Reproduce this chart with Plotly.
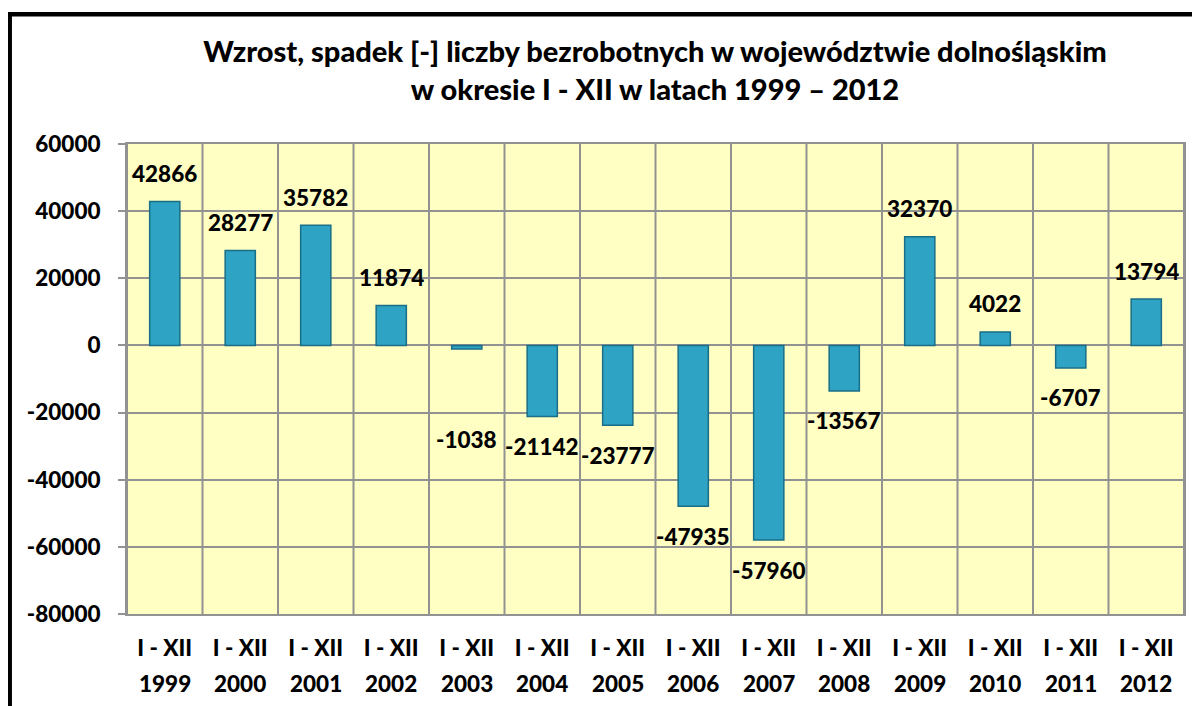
import plotly.graph_objects as go

years = ["1999", "2000", "2001", "2002", "2003", "2004", "2005",
         "2006", "2007", "2008", "2009", "2010", "2011", "2012"]
period = "I - XII"
values = [42866, 28277, 35782, 11874, -1038, -21142, -23777,
          -47935, -57960, -13567, 32370, 4022, -6707, 13794]
y_ticks = [60000, 40000, 20000, 0, -20000, -40000, -60000, -80000]
title_lines = ["Wzrost, spadek [-] liczby bezrobotnych w województwie dolnośląskim",
               "w okresie I - XII w latach 1999 – 2012"]

FONT = "Lato"
WEIGHT = 900
GRID = "#929292"
# browser body margin of 8px shifts the figure; compensate in size/margins
W, H = 1192, 698
ML, MR, MT, MB = 119, 16, 136, 92
PW, PH = W - ML - MR, H - MT - MB

xs = list(range(len(years)))

fig = go.Figure()
fig.add_trace(go.Bar(
    x=xs, y=values,
    width=0.4,
    marker=dict(color="#2EA3C4", line=dict(color="#1A6E86", width=1.5)),
    hovertext=[f"{period} {y}" for y in years], hoverinfo="text+y",
))

# value labels outside the bar ends
label_shift = {i: (28 if v >= 0 else -30) for i, v in enumerate(values)}
label_shift[4] = -91  # 2003 label placed lower, as in the source
for i, v in enumerate(values):
    fig.add_annotation(x=xs[i], y=v, text=str(v), showarrow=False,
                       yshift=label_shift[i],
                       font=dict(family=FONT, size=22.5, color="#000000", weight=WEIGHT))

# year line under the "I - XII" tick labels
for i, y in enumerate(years):
    fig.add_annotation(x=xs[i], y=-69 / PH, xref="x", yref="paper", text=y,
                       showarrow=False, yanchor="middle",
                       font=dict(family=FONT, size=22.5, color="#000000", weight=WEIGHT))

# outer frame (left and top visible)
fig.add_shape(type="rect", xref="paper", yref="paper",
              x0=(1.7 - ML) / PW, x1=1.3, y0=-0.6, y1=1 + (MT - 6.3) / PH,
              line=dict(color="#000000", width=4.5), fillcolor="rgba(0,0,0,0)", layer="above")

# vertical separators at category boundaries
for i in range(len(years) + 1):
    fig.add_shape(type="line", xref="x", yref="paper",
                  x0=i - 0.5, x1=i - 0.5, y0=0, y1=1,
                  line=dict(color=GRID, width=2), layer="below")

fig.update_layout(
    width=W, height=H,
    margin=dict(l=ML, r=MR, t=MT, b=MB, autoexpand=False),
    paper_bgcolor="#FFFFFF",
    plot_bgcolor="#FFFFC4",
    showlegend=False,
    title=dict(text="<br>".join(title_lines), x=647 / W, xanchor="center",
               y=1 - 54 / H, yanchor="middle",
               font=dict(family=FONT, size=29, color="#000000", weight=WEIGHT)),
    xaxis=dict(range=[-0.5, len(years) - 0.5], tickvals=xs,
               ticktext=[period] * len(years), showgrid=False,
               tickfont=dict(family=FONT, size=22.5, color="#000000", weight=WEIGHT),
               showline=True, linecolor=GRID, linewidth=2, mirror=True,
               ticks="", ticklabelstandoff=13, zeroline=False),
    yaxis=dict(range=[-80000, 60000], tickvals=y_ticks,
               ticktext=[str(t) for t in y_ticks],
               showgrid=True, gridcolor=GRID, gridwidth=2,
               zeroline=True, zerolinecolor=GRID, zerolinewidth=2,
               showline=True, linecolor=GRID, linewidth=2, mirror=True,
               ticks="outside", ticklen=7, tickcolor=GRID, tickwidth=2,
               ticklabelstandoff=13,
               tickfont=dict(family=FONT, size=22.5, color="#000000", weight=WEIGHT)),
)

fig.write_html("out.html")
